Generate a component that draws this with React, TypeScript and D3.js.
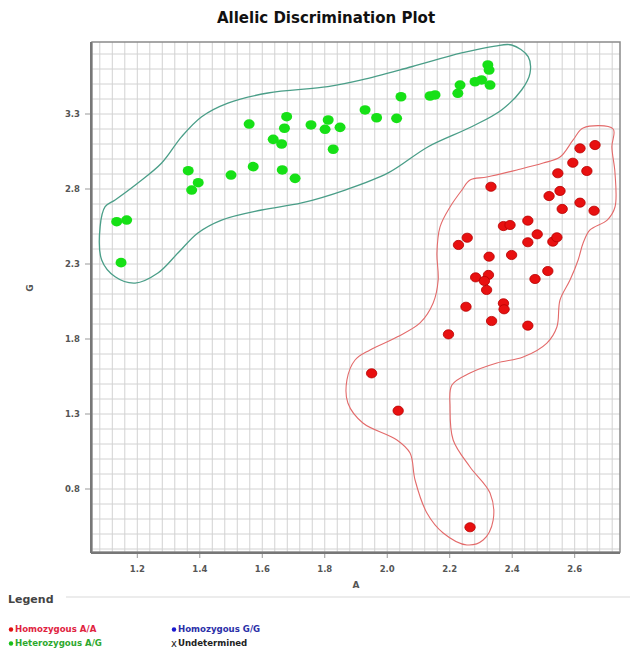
import React from 'react';
import * as d3 from 'd3';

// cluster calls: [A, G]
const heteroAG: [number, number][] = [
  [1.134, 2.582], [1.166, 2.593], [1.148, 2.309], [1.363, 2.922], [1.395, 2.842],
  [1.374, 2.793], [1.5, 2.893], [1.571, 2.949], [1.664, 2.927], [1.705, 2.871],
  [1.558, 3.233], [1.635, 3.131], [1.662, 3.1], [1.678, 3.282], [1.671, 3.205],
  [1.756, 3.227], [1.811, 3.26], [1.801, 3.198], [1.849, 3.211], [1.827, 3.065],
  [1.929, 3.327], [1.966, 3.275], [2.03, 3.271], [2.044, 3.415], [2.137, 3.42],
  [2.153, 3.427], [2.226, 3.438], [2.233, 3.493], [2.281, 3.515], [2.302, 3.527],
  [2.329, 3.493], [2.322, 3.627], [2.326, 3.593],
];

const homoAA: [number, number][] = [
  [2.665, 3.093], [2.617, 3.071], [2.594, 2.975], [2.639, 2.92], [2.546, 2.905],
  [2.332, 2.815], [2.553, 2.787], [2.518, 2.753], [2.617, 2.709], [2.56, 2.667],
  [2.662, 2.655], [2.45, 2.589], [2.372, 2.553], [2.393, 2.56], [2.48, 2.498],
  [2.256, 2.475], [2.228, 2.427], [2.45, 2.445], [2.53, 2.449], [2.543, 2.478],
  [2.326, 2.349], [2.398, 2.36], [2.283, 2.211], [2.324, 2.227], [2.311, 2.187],
  [2.318, 2.127], [2.514, 2.253], [2.473, 2.2], [2.252, 2.015], [2.372, 2.038],
  [2.374, 1.998], [2.334, 1.92], [2.45, 1.889], [2.196, 1.831], [1.95, 1.571],
  [2.035, 1.322], [2.265, 0.545],
];

// hand-drawn cluster outlines
const greenOutline: [number, number][] = [
  [2.398, 3.76], [2.451, 3.682], [2.457, 3.573], [2.43, 3.46], [2.366, 3.327],
  [2.27, 3.215], [2.131, 3.082], [2.003, 2.907], [1.865, 2.793], [1.726, 2.707],
  [1.598, 2.66], [1.47, 2.593], [1.394, 2.507], [1.33, 2.373], [1.266, 2.24],
  [1.193, 2.173], [1.129, 2.215], [1.086, 2.327], [1.081, 2.549], [1.097, 2.682],
  [1.129, 2.727], [1.202, 2.84], [1.278, 2.973], [1.342, 3.149], [1.406, 3.282],
  [1.49, 3.373], [1.618, 3.44], [1.81, 3.482], [1.918, 3.527], [2.078, 3.615],
  [2.238, 3.707], [2.345, 3.753],
];

const redOutline: [number, number][] = [
  [2.723, 3.2], [2.627, 3.207], [2.595, 3.127], [2.553, 3.013], [2.499, 2.973],
  [2.415, 2.927], [2.319, 2.88], [2.265, 2.86], [2.239, 2.793], [2.201, 2.68],
  [2.169, 2.547], [2.159, 2.373], [2.163, 2.193], [2.147, 2.04], [2.105, 1.907],
  [2.031, 1.813], [1.945, 1.727], [1.897, 1.66], [1.871, 1.527], [1.874, 1.373],
  [1.922, 1.24], [2.031, 1.127], [2.073, 1.04], [2.089, 0.86], [2.127, 0.64],
  [2.179, 0.507], [2.255, 0.427], [2.307, 0.46], [2.339, 0.593], [2.329, 0.773],
  [2.265, 0.947], [2.211, 1.127], [2.201, 1.347], [2.207, 1.493], [2.265, 1.573],
  [2.351, 1.64], [2.435, 1.68], [2.511, 1.773], [2.543, 1.88], [2.553, 2.06],
  [2.585, 2.193], [2.611, 2.327], [2.627, 2.44], [2.649, 2.527], [2.704, 2.593],
  [2.729, 2.68], [2.729, 2.907], [2.719, 3.08],
];

const xTicks = [1.2, 1.4, 1.6, 1.8, 2.0, 2.2, 2.4, 2.6];
const yTicks = [0.8, 1.3, 1.8, 2.3, 2.8, 3.3];

const legendItems = [
  { label: 'Homozygous A/A', color: '#e0233f', dot: '#e01010', col: 0, row: 0 },
  { label: 'Homozygous G/G', color: '#2b2fa8', dot: '#1a1ad0', col: 1, row: 0 },
  { label: 'Heterozygous A/G', color: '#2ea82e', dot: '#18c018', col: 0, row: 1 },
  { label: 'Undetermined', color: '#222', dot: null, col: 1, row: 1 },
];

const W = 630;
const H = 654;
const left = 92, right = 620, top = 42, bottom = 552;

export default function App() {
  const x = d3.scaleLinear().domain([1.055, 2.745]).range([left, right]);
  const y = d3.scaleLinear().domain([0.38, 3.78]).range([bottom, top]);

  const gridX = d3.range(1.08, 2.745, 0.04);
  const gridY = d3.range(0.4, 3.78, 0.1);

  const outline = d3.line<[number, number]>()
    .x(d => x(d[0]))
    .y(d => y(d[1]))
    .curve(d3.curveCatmullRomClosed.alpha(0.5));

  const font = 'DejaVu Sans, Verdana, sans-serif';

  return (
    <svg width={W} height={H} style={{ position: 'absolute', left: 0, top: 0, background: '#fff' }}>
      <text x={326} y={23} textAnchor="middle" fontFamily={font} fontWeight="bold" fontSize={15} fill="#111">
        Allelic Discrimination Plot
      </text>

      {/* grid */}
      <g stroke="#d2d2d2" strokeWidth={1}>
        {gridX.map((v, i) => (
          <line key={'gx' + i} x1={x(v)} x2={x(v)} y1={top} y2={bottom} />
        ))}
        {gridY.map((v, i) => (
          <line key={'gy' + i} x1={left} x2={right} y1={y(v)} y2={y(v)} />
        ))}
      </g>

      {/* frame */}
      <rect x={left} y={top} width={right - left} height={bottom - top} fill="none" stroke="#8a8a8a" strokeWidth={1.5} />
      <line x1={left - 1} x2={left - 1} y1={top} y2={bottom + 1} stroke="#777" strokeWidth={2} />
      <line x1={left - 1} x2={right} y1={bottom + 1} y2={bottom + 1} stroke="#777" strokeWidth={2} />

      {/* axes */}
      <g fontFamily={font} fontSize={8.5} fill="#555" fontWeight="bold">
        {xTicks.map(v => (
          <g key={'xt' + v}>
            <line x1={x(v)} x2={x(v)} y1={bottom + 2} y2={bottom + 6} stroke="#999" />
            <text x={x(v)} y={572} textAnchor="middle">{v.toFixed(1)}</text>
          </g>
        ))}
        {yTicks.map(v => (
          <g key={'yt' + v}>
            <line x1={left - 7} x2={left - 2} y1={y(v)} y2={y(v)} stroke="#999" />
            <text x={80} y={y(v) + 3} textAnchor="end">{v.toFixed(1)}</text>
          </g>
        ))}
      </g>
      <text x={356} y={588} textAnchor="middle" fontFamily={font} fontSize={9} fontWeight="bold" fill="#555">A</text>
      <text transform="translate(33,288) rotate(-90)" textAnchor="middle" fontFamily={font} fontSize={9} fontWeight="bold" fill="#555">G</text>

      {/* cluster outlines */}
      <path d={outline(greenOutline) ?? ''} fill="none" stroke="#4a9e88" strokeWidth={1.3} />
      <path d={outline(redOutline) ?? ''} fill="none" stroke="#e36a6a" strokeWidth={1.1} />

      {/* points */}
      {heteroAG.map((d, i) => (
        <ellipse key={'g' + i} cx={x(d[0])} cy={y(d[1])} rx={5.5} ry={4.8} fill="#16e016" />
      ))}
      {homoAA.map((d, i) => (
        <ellipse key={'r' + i} cx={x(d[0])} cy={y(d[1])} rx={5.2} ry={4.6} fill="#e81010" stroke="#b80000" strokeWidth={0.8} />
      ))}

      {/* legend */}
      <line x1={66} x2={W} y1={597} y2={597} stroke="#e6e6e6" strokeWidth={1.5} />
      <text x={8} y={603} fontFamily={font} fontSize={11} fontWeight="bold" fill="#444">Legend</text>
      {legendItems.map(it => {
        const lx = it.col === 0 ? 10 : 173;
        const ly = it.row === 0 ? 632 : 646;
        return (
          <g key={it.label}>
            {it.dot ? (
              <circle cx={lx + 1} cy={ly - 2.5} r={2.2} fill={it.dot} />
            ) : (
              <text x={lx - 2} y={ly + 1} fontFamily={font} fontSize={10} fill="#222">x</text>
            )}
            <text x={lx + 5} y={ly} fontFamily={font} fontSize={8.6} fontWeight="bold" fill={it.color}>
              {it.label}
            </text>
          </g>
        );
      })}
    </svg>
  );
}
